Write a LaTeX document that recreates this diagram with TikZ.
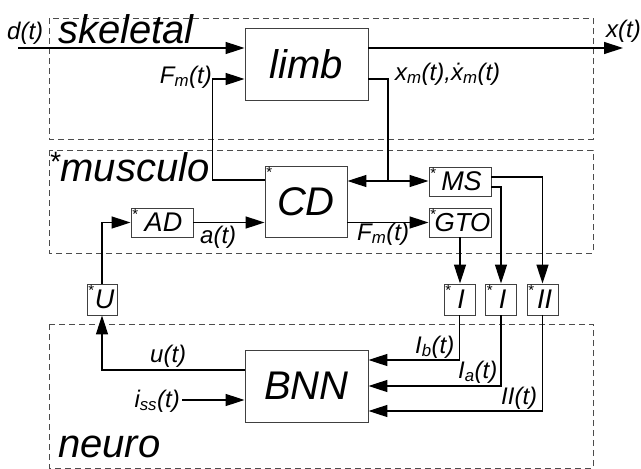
\documentclass[tikz,border=0pt]{standalone}
\usepackage{fontspec}
\setmainfont{Liberation Sans}
\usetikzlibrary{arrows.meta, positioning}
\newcommand\lowidx[1]{\textsubscript{#1}}
\tikzset{
  block/.style={
    draw=black!75,
    line width=0.9pt,
    fill=white,
    inner sep=0pt,
    font=\fontsize{27}{27}\selectfont\itshape
  },
  big block/.style={
    block,
    minimum width=123pt,
    minimum height=72pt,
    font=\fontsize{40}{40}\selectfont\itshape
  },
  small block/.style={
    block,
    minimum width=62pt,
    minimum height=29pt
  },
  tiny block/.style={
    block,
    minimum width=31pt,
    minimum height=31pt
  },
  starred/.style={
    label={[anchor=north west, inner sep=1.5pt, font=\fontsize{15}{15}\selectfont]north west:*}
  },
  signal/.style={
    -{Triangle[length=19pt, width=12pt]},
    line width=1.4pt
  },
  wire/.style={
    line width=1.4pt
  },
  layer/.style={
    draw=black!70,
    line width=0.9pt,
    dash pattern=on 6pt off 4pt
  },
  layer title/.style={
    font=\fontsize{40}{40}\selectfont\itshape,
    anchor=base west,
    inner sep=0pt
  },
  sig label/.style={
    font=\fontsize{24}{24}\selectfont\itshape,
    inner sep=0pt
  }
}

\begin{document}
\begin{tikzpicture}[x=1pt, y=-1pt]
    \useasboundingbox (0,0) rectangle (641,469);

    % drei Ebenen (gestrichelte Rahmen)
    \draw[layer] (49,18) rectangle (593,139);
    \draw[layer] (49,150) rectangle (593,253);
    \draw[layer] (49,324) rectangle (593,468);
    \node[layer title] (skel) at (58,43) {skeletal};
    \node[layer title] (musc) at (49,181) {\textsuperscript{*}musculo};
    \node[layer title] (neur) at (58,457) {neuro};

    % Bloecke
    \node[big block] (limb) at (306.5,64) {limb};
    \node[big block, minimum width=82pt, minimum height=71pt, starred] (CD) at (306,201.5) {CD};
    \node[big block] (BNN) at (306.5,386) {BNN};
    \node[small block, starred] (AD) at (162,222.5) {\hspace*{3pt}AD};
    \node[small block, starred] (MS) at (460,181.5) {\hspace*{3pt}MS};
    \node[small block, starred, font=\fontsize{26}{26}\selectfont\itshape] (GTO) at (460,222.5) {\hspace*{5pt}GTO};
    \node[tiny block, starred] (Ib) at (459.5,299.5) {\hspace*{3pt}I};
    \node[tiny block, starred] (Ia) at (501,299.5) {\hspace*{3pt}I};
    \node[tiny block, starred] (IIb) at (542.5,299.5) {\hspace*{4pt}II};
    \node[tiny block, minimum width=30pt, starred] (U) at (102,299.5) {\hspace*{5pt}U};

    % Ein- und Ausgang
    \coordinate (din) at (18,48);
    \coordinate (xout) at (623,48);
    \draw[signal] (din) -- (din -| limb.west);
    \draw[signal] (din -| limb.east) -- (xout);
    \node[sig label, anchor=base west] (dlab) at (7,39) {d(t)};
    \node[sig label, anchor=base west] (xlab) at (606,37) {x(t)};

    % Kraft zum Glied, Position zurueck
    \draw[signal] ([yshift=21.5pt]CD.west) -- ++(-52,0) |- ([yshift=-15pt]limb.west);
    \node[sig label, anchor=base east] (Fup) at (212,83) {F\lowidx{m}(t)};
    \coordinate (split) at (388,181);
    \draw[wire] ([yshift=-15pt]limb.east) -| (split);
    \draw[signal] (split) -- (split -| CD.east);
    \draw[signal] (split) -- (split -| MS.west);
    \node[sig label, anchor=base west] (xmlab) at (395,80) {x\lowidx{m}(t),\.x\lowidx{m}(t)};

    % Muskelebene
    \draw[signal] (U.north) |- (AD.west);
    \draw[signal] (AD.east) -- (AD.east -| CD.west);
    \node[sig label, anchor=base west] (alab) at (200,243) {a(t)};
    \draw[signal] (GTO.west -| CD.east) -- (GTO.west);
    \node[sig label, anchor=base west] (Flow) at (357,240) {F\lowidx{m}(t)};

    % Rezeptoren zu den Afferenzen
    \draw[signal] (GTO.south) -- (GTO.south |- Ib.north);
    \draw[signal] ([yshift=-5.5pt]MS.east) -| (Ia.north);
    \draw[signal] ([yshift=4.5pt]MS.east) -| (IIb.north);

    % Afferenzen ins Netz
    \draw[signal] (Ib.south) |- ([yshift=26pt]BNN.east);
    \draw[signal] (Ia.south) |- (BNN.east);
    \draw[signal] (IIb.south) |- ([yshift=-25pt]BNN.east);
    \node[sig label, anchor=base west] (Iblab) at (415,353) {I\lowidx{b}(t)};
    \node[sig label, anchor=base west] (Ialab) at (458,378) {I\lowidx{a}(t)};
    \node[sig label, anchor=base west] (IIlab) at (501,404) {II(t)};

    % Netz zurueck zum Muskel
    \draw[signal] ([yshift=16pt]BNN.west) -| (U.south);
    \node[sig label, anchor=base west] (ulab) at (150,362) {u(t)};
    \coordinate (iss) at (182,400);
    \draw[signal] (iss) -- (iss -| BNN.west);
    \node[sig label, anchor=base east] (isslab) at (180,407) {i\lowidx{ss}(t)};

\end{tikzpicture}
\end{document}
